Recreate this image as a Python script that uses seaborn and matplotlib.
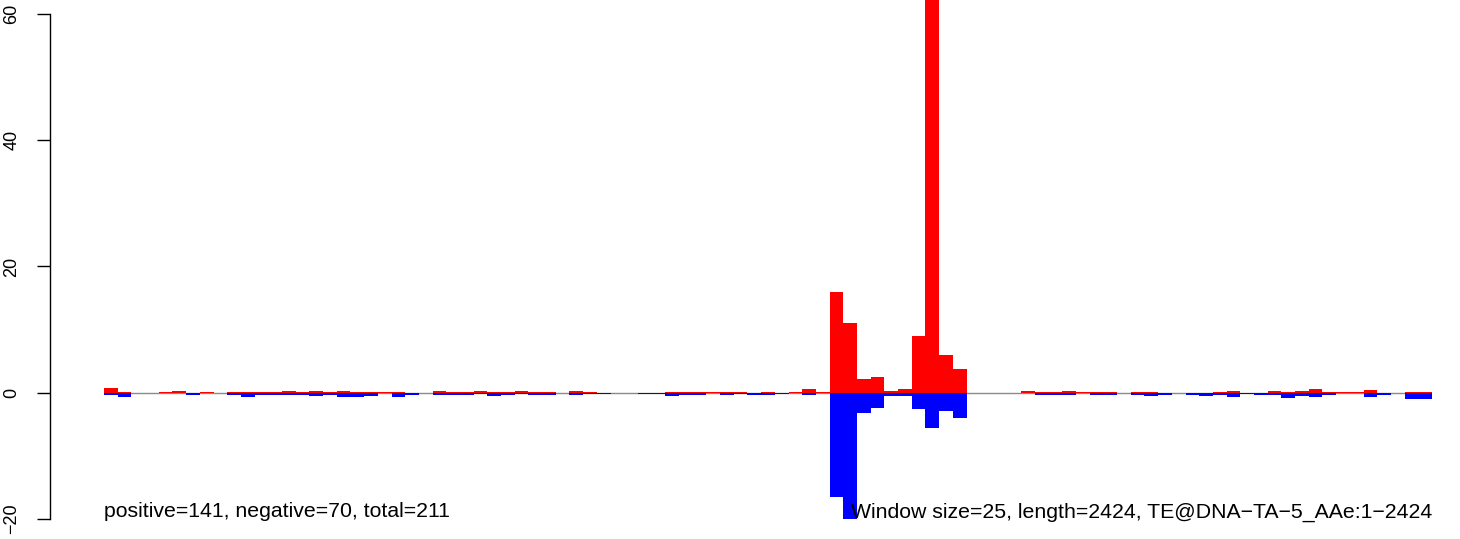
import numpy as np
import pandas as pd
import matplotlib
matplotlib.use("Agg")
import matplotlib.pyplot as plt
import seaborn as sns

# ---- data (per 25-bp window) ----
positive = [0.8, 0.1, 0, 0, 0.1, 0.32, 0, 0.16, 0, 0.16,
            0.16, 0.16, 0.16, 0.32, 0.1, 0.32, 0.1, 0.32, 0.16, 0.16,
            0.1, 0.1, 0, 0, 0.32, 0.16, 0.16, 0.32, 0.16, 0.1,
            0.32, 0.16, 0.16, 0, 0.32, 0.1, 0, 0, 0, 0,
            0, 0.16, 0.1, 0.16, 0.1, 0.16, 0.16, 0, 0.16, 0,
            0.16, 0.64, 0.16, 16, 11, 2.1, 2.5, 0.32, 0.5, 8.9,
            65, 5.9, 3.8, 0, 0, 0, 0, 0.32, 0.1, 0.16,
            0.32, 0.1, 0.16, 0.1, 0, 0.16, 0.16, 0, 0, 0,
            0, 0.16, 0.32, 0, 0, 0.32, 0.1, 0.32, 0.63, 0.1,
            0.1, 0.1, 0.48, 0, 0, 0.1, 0.1]
negative = [0.45, 0.63, 0, 0, 0, 0, 0.32, 0, 0, 0.32,
            0.63, 0.32, 0.32, 0.32, 0.32, 0.48, 0.32, 0.63, 0.63, 0.48,
            0, 0.63, 0.32, 0, 0.32, 0.32, 0.32, 0.16, 0.48, 0.32,
            0.16, 0.32, 0.32, 0, 0.32, 0.16, 0.16, 0, 0, 0.16,
            0.16, 0.48, 0.32, 0.32, 0, 0.32, 0.16, 0.32, 0.32, 0.16,
            0, 0.32, 0, 16.5, 22, 3.3, 2.5, 0.5, 0.6, 2.65,
            5.7, 3.0, 4.1, 0, 0, 0, 0, 0, 0.32, 0.32,
            0.32, 0, 0.32, 0.32, 0, 0.32, 0.48, 0.32, 0, 0.32,
            0.48, 0.32, 0.63, 0.16, 0.32, 0.32, 0.8, 0.48, 0.63, 0.32,
            0, 0, 0.63, 0.32, 0, 0.95, 0.95]
yticks = [-20, 0, 20, 40, 60]
left_label = "positive=141, negative=70, total=211"
right_label = "Window size=25, length=2424, TE@DNA\u2212TA\u22125_AAe:1\u22122424"

window = list(range(len(positive)))
df = pd.DataFrame({"window": window,
                   "pos": positive,
                   "neg": [-v for v in negative]})

sns.set_style("white")
plt.rcParams["font.family"] = ["Liberation Sans", "DejaVu Sans"]

W, H = 1460, 539
fig = plt.figure(figsize=(W / 100, H / 100), dpi=100)
ax = fig.add_axes([104 / W, (H - 518.6) / H, (1432 - 104) / W, 518.6 / H])

ax.axhline(0, color="#8a8a8a", lw=1.0, zorder=0)
sns.barplot(data=df, x="window", y="pos", color="#ff0000", saturation=1,
            width=1.0, linewidth=0, errorbar=None, ax=ax, zorder=2)
sns.barplot(data=df, x="window", y="neg", color="#0000ff", saturation=1,
            width=1.0, linewidth=0, errorbar=None, ax=ax, zorder=2)

n = len(positive)
ax.set_xlim(-0.5, n - 0.5)
ax.set_ylim(-20, 62.28)
ax.set_xlabel("")
ax.set_ylabel("")
ax.set_xticks([])

for s in ["top", "right", "bottom"]:
    ax.spines[s].set_visible(False)
ax.spines["left"].set_position(("outward", 54 * 0.72))
ax.spines["left"].set_bounds(-20, 60)
ax.spines["left"].set_linewidth(1.0)
ax.spines["left"].set_color("black")
ax.set_yticks(yticks)
ax.set_yticklabels([f"{v}".replace("-", "\u2212") for v in yticks],
                   rotation=90, va="center", fontsize=13)
ax.tick_params(axis="y", direction="out", length=9.7, width=1.0,
               pad=11.5, left=True, colors="black")
for lab in ax.get_yticklabels():
    lab.set_clip_on(False)

ax.text(-0.5, -19.8, left_label, ha="left", va="baseline", fontsize=15.3,
        color="black", zorder=5)
ax.text(n - 0.5, -19.8, right_label, ha="right", va="baseline", fontsize=15.3,
        color="black", zorder=5)

fig.savefig("out.png", dpi=100)
